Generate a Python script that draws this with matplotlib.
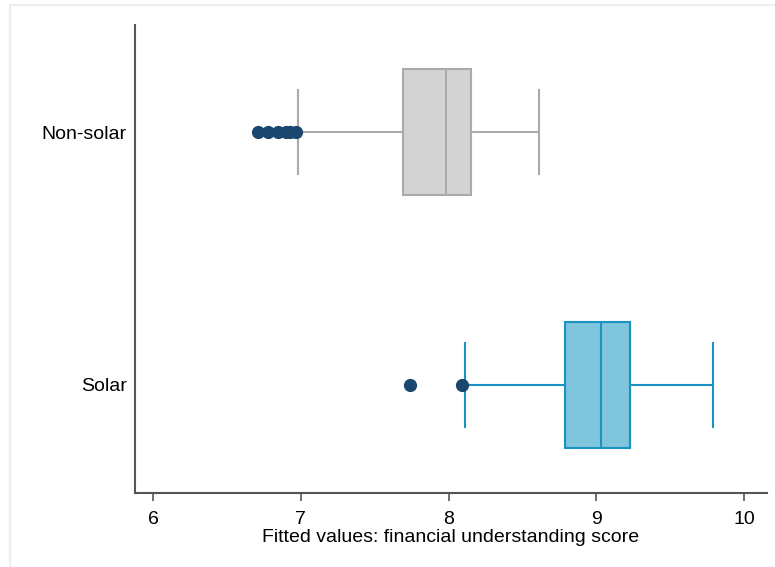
import matplotlib.pyplot as plt
from matplotlib.lines import Line2D

plt.rcParams['font.family'] = ['Liberation Sans', 'DejaVu Sans']

# Group labels (bottom to top)
groups = ["Solar", "Non-solar"]

# Box plot summaries
whisker_low = [8.11, 6.98]
q1 = [8.79, 7.69]
median = [9.03, 7.98]
q3 = [9.23, 8.15]
whisker_high = [9.79, 8.61]
outliers = [[7.74, 8.09], [6.71, 6.78, 6.845, 6.90, 6.93, 6.97]]

fill_colors = ["#7FC5DE", "#D3D3D3"]
edge_colors = ["#1A93C2", "#AAAAAA"]
outlier_color = "#1A476F"

fig = plt.figure(figsize=(7.75, 5.67), dpi=100)
ax = fig.add_axes([135 / 775, 1 - 493 / 567, (767 - 135) / 775, (493 - 25) / 567])

for i in range(len(groups)):
    stats = [{
        "whislo": whisker_low[i], "q1": q1[i], "med": median[i],
        "q3": q3[i], "whishi": whisker_high[i], "fliers": outliers[i],
    }]
    ax.bxp(
        stats, positions=[i + 1], vert=False, widths=0.5, patch_artist=True,
        showfliers=True, capwidths=0.33,
        boxprops=dict(facecolor=fill_colors[i], edgecolor=edge_colors[i], linewidth=1.5),
        medianprops=dict(color=edge_colors[i], linewidth=1.5),
        whiskerprops=dict(color=edge_colors[i], linewidth=1.5),
        capprops=dict(color=edge_colors[i], linewidth=1.5),
        flierprops=dict(marker="o", markersize=8.5, markerfacecolor=outlier_color,
                        markeredgecolor=outlier_color),
    )

ax.set_xlim(5.878, 10.155)
ax.set_ylim(0.573, 2.423)
ax.set_xticks([6, 7, 8, 9, 10])
ax.set_yticks([1, 2])
ax.set_yticklabels(groups)
ax.tick_params(axis="x", labelsize=14, length=6, color="#555555", width=1.2, pad=7)
ax.tick_params(axis="y", labelsize=14, length=0, pad=6)
ax.set_xlabel("Fitted values: financial understanding score", fontsize=14, labelpad=1)

for side in ["top", "right"]:
    ax.spines[side].set_visible(False)
for side in ["left", "bottom"]:
    ax.spines[side].set_color("#555555")
    ax.spines[side].set_linewidth(1.5)

# faint outer frame of the graph region
fig.add_artist(Line2D([10 / 775, 10 / 775], [0, 1 - 5 / 567], color="#EAF0F0", lw=1.5))
fig.add_artist(Line2D([10 / 775, 1], [1 - 5 / 567, 1 - 5 / 567], color="#EAF0F0", lw=1.5))

fig.savefig("out.png", dpi=100)
